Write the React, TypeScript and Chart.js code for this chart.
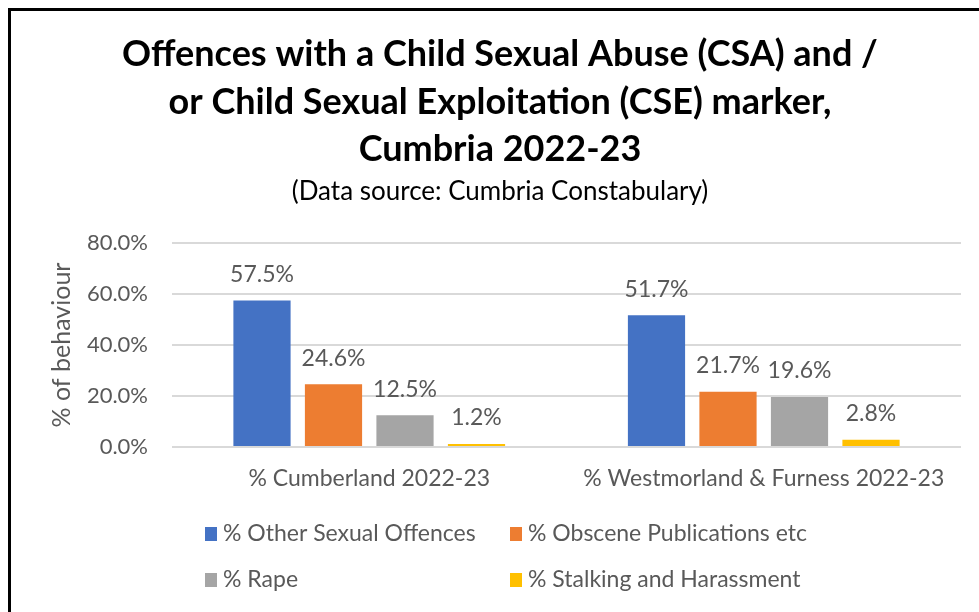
import { useEffect, useRef } from "react";
import { Chart, registerables } from "chart.js";

Chart.register(...registerables);

const categories = ["% Cumberland 2022-23", "% Westmorland & Furness 2022-23"];
const seriesNames = [
  "% Other Sexual Offences",
  "% Obscene Publications etc",
  "% Rape",
  "% Stalking and Harassment",
];
const otherSexualOffences = [57.5, 51.7];
const obscenePublications = [24.6, 21.7];
const rape = [12.5, 19.6];
const stalkingHarassment = [1.2, 2.8];
const seriesColors = ["#4472C4", "#ED7D31", "#A5A5A5", "#FFC000"];
const yMin = 0;
const yMax = 80;
const yStep = 20;
const titleLines = [
  "Offences with a Child Sexual Abuse (CSA) and /",
  "or Child Sexual Exploitation (CSE) marker,",
  "Cumbria 2022-23",
];
const subtitleText = "(Data source: Cumbria Constabulary)";
const yAxisTitle = "% of behaviour";

const FONT = "Lato, 'Open Sans', sans-serif";
const TEXT = "#595959";

const dataLabelsPlugin = {
  id: "dataLabels",
  afterDatasetsDraw(chart: any) {
    const ctx = chart.ctx;
    ctx.save();
    ctx.font = `23px ${FONT}`;
    ctx.fillStyle = TEXT;
    ctx.textAlign = "center";
    ctx.textBaseline = "middle";
    chart.data.datasets.forEach((ds: any, i: number) => {
      const meta = chart.getDatasetMeta(i);
      meta.data.forEach((bar: any, j: number) => {
        ctx.fillText(Number(ds.data[j]).toFixed(1) + "%", bar.x, bar.y - 26);
      });
    });
    ctx.restore();
  },
};

const gridLegendPlugin = {
  id: "gridLegend",
  afterDraw(chart: any) {
    const ctx = chart.ctx;
    const cols = [194, 499];
    const rows = [523, 569];
    ctx.save();
    ctx.font = `23px ${FONT}`;
    ctx.textBaseline = "middle";
    ctx.textAlign = "left";
    chart.data.datasets.forEach((ds: any, i: number) => {
      const x = cols[i % 2];
      const y = rows[Math.floor(i / 2)];
      ctx.fillStyle = ds.backgroundColor;
      ctx.fillRect(x, y - 7, 12, 14);
      ctx.fillStyle = TEXT;
      ctx.fillText(ds.label, x + 18, y);
    });
    ctx.restore();
  },
};

export default function App() {
  const canvasRef = useRef<HTMLCanvasElement | null>(null);

  useEffect(() => {
    if (!canvasRef.current) return;
    const values = [otherSexualOffences, obscenePublications, rape, stalkingHarassment];
    const chart = new Chart(canvasRef.current, {
      type: "bar",
      data: {
        labels: categories,
        datasets: seriesNames.map((name, i) => ({
          label: name,
          data: values[i],
          backgroundColor: seriesColors[i],
          borderWidth: 0,
          categoryPercentage: 0.725,
          barPercentage: 0.8,
        })),
      },
      options: {
        animation: false,
        responsive: false,
        maintainAspectRatio: false,
        layout: { padding: { left: 28, right: 18, top: 0, bottom: 105 } },
        plugins: {
          legend: { display: false },
          tooltip: { enabled: false },
          title: {
            display: true,
            text: titleLines,
            color: "#000000",
            font: { family: FONT, size: 36, weight: "bold", lineHeight: 1.319 },
            padding: { top: 20, bottom: 3 },
          },
          subtitle: {
            display: true,
            text: subtitleText,
            color: "#000000",
            font: { family: FONT, size: 26, lineHeight: 1.2 },
            padding: { top: 0, bottom: 35.4 },
          },
        },
        scales: {
          x: {
            grid: { display: false, drawTicks: false },
            border: { display: false },
            ticks: { color: TEXT, font: { family: FONT, size: 23 }, padding: 18 },
            afterFit: (scale: any) => {
              scale.height = 60;
            },
          },
          y: {
            min: yMin,
            max: yMax,
            ticks: {
              stepSize: yStep,
              color: TEXT,
              font: { family: FONT, size: 22 },
              padding: 24,
              callback: (v: any) => Number(v).toFixed(1) + "%",
            },
            grid: { color: "#D9D9D9", lineWidth: 2, drawTicks: false },
            border: { display: false },
            title: {
              display: true,
              text: yAxisTitle,
              color: TEXT,
              font: { family: FONT, size: 25, lineHeight: 1.2 },
              padding: { top: 8, bottom: 0 },
            },
            afterFit: (scale: any) => {
              scale.width = 133;
            },
          },
        },
      },
      plugins: [dataLabelsPlugin, gridLegendPlugin],
    });
    return () => chart.destroy();
  }, []);

  return (
    <div
      style={{
        position: "fixed",
        left: 8,
        top: 8,
        width: 971,
        height: 604,
        boxSizing: "border-box",
        borderTop: "3px solid #000",
        borderLeft: "3px solid #000",
        background: "#fff",
        overflow: "hidden",
      }}
    >
      <canvas ref={canvasRef} width={968} height={601} style={{ display: "block" }} />
    </div>
  );
}
